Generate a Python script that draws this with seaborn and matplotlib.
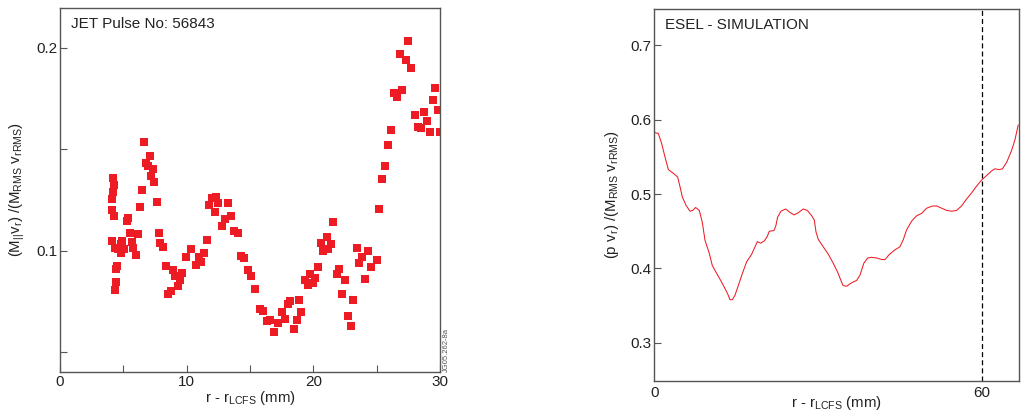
import numpy as np
import pandas as pd
import matplotlib
matplotlib.use("Agg")
import matplotlib.pyplot as plt
from matplotlib.ticker import FixedLocator
import seaborn as sns

# ---------------- data: left panel (JET experiment) ----------------
jet_r = [4.18, 4.26, 4.16, 4.08, 4.08, 4.26, 4.10, 4.34, 4.87, 4.79, 5.05, 4.84, 4.55,
         4.50, 4.42, 4.42, 4.34, 5.34, 5.26, 5.55, 6.16, 5.66, 5.76, 6.00,
         6.60, 7.08, 6.76, 6.97, 7.34, 7.18, 7.42, 6.47, 6.32, 7.66, 7.82, 7.89, 8.13,
         8.37, 8.92, 9.08, 9.63, 9.45, 9.29, 8.76, 8.55, 9.92, 10.34, 10.97, 11.10,
         10.74, 11.37, 11.60, 11.76, 12.03, 12.34, 12.50, 12.24, 13.26, 13.47, 13.03,
         12.79, 13.74, 14.05, 14.29, 14.53, 14.84, 15.08, 15.39,
         15.79, 16.03, 16.32, 16.55, 16.87, 17.21, 17.50, 17.76, 17.97, 18.13, 18.47,
         18.68, 18.87, 19.00, 19.37, 19.58, 19.71, 19.97, 20.16, 20.37, 20.60, 20.76,
         21.08, 21.13, 21.37, 21.55, 21.87, 22.00, 22.26, 22.50, 22.74, 22.97, 23.13,
         23.45, 23.58, 23.84, 24.08, 24.32, 24.55, 25.03, 25.18, 25.42, 25.66, 25.89,
         26.10, 26.37, 26.60, 26.82, 27.00, 27.29, 27.47, 27.71, 28.00, 28.26, 28.50,
         28.71, 28.97, 29.21, 29.42, 29.60, 29.84, 30.00]
jet_val = [0.1358, 0.1325, 0.1291, 0.1255, 0.1200, 0.1171, 0.1049, 0.1011, 0.1049, 0.1031,
           0.1007, 0.0990, 0.1008, 0.0926, 0.0910, 0.0847, 0.0808, 0.1163, 0.1146, 0.1085,
           0.1084, 0.1044, 0.1011, 0.0979,
           0.1535, 0.1466, 0.1432, 0.1417, 0.1402, 0.1368, 0.1338, 0.1299, 0.1215, 0.1240,
           0.1087, 0.1038, 0.1018, 0.0924, 0.0905, 0.0875, 0.0890, 0.0855, 0.0828, 0.0801,
           0.0787, 0.0967, 0.1008, 0.0970, 0.0946, 0.0931, 0.0990, 0.1053, 0.1227, 0.1258,
           0.1263, 0.1236, 0.1192, 0.1236, 0.1171, 0.1156, 0.1122, 0.1097, 0.1087, 0.0975,
           0.0966, 0.0906, 0.0877, 0.0813,
           0.0713, 0.0703, 0.0652, 0.0658, 0.0599, 0.0642, 0.0698, 0.0665, 0.0737, 0.0752,
           0.0614, 0.0660, 0.0757, 0.0700, 0.0856, 0.0831, 0.0887, 0.0842, 0.0865, 0.0920,
           0.1038, 0.0998, 0.1069, 0.1008, 0.1034, 0.1141, 0.0885, 0.0910, 0.0787, 0.0855,
           0.0678, 0.0631, 0.0757, 0.1013, 0.0941, 0.0969, 0.0862, 0.1000, 0.0921, 0.0954,
           0.1207, 0.1355, 0.1419, 0.1521, 0.1596, 0.1777, 0.1757, 0.1970, 0.1793, 0.1939,
           0.2034, 0.1901, 0.1668, 0.1611, 0.1606, 0.1685, 0.1640, 0.1586, 0.1742, 0.1803,
           0.1693, 0.1585]

# ---------------- data: right panel (ESEL simulation) ----------------
sim_r = [0.0, 0.74, 1.35, 1.96, 2.57, 3.49, 4.28, 4.71, 5.14, 5.81, 6.54, 7.03, 7.58, 8.25,
         8.80, 9.29, 10.09, 10.63, 11.30, 12.16, 12.95, 13.44, 13.87, 14.30, 14.79, 15.40,
         16.13, 16.93, 17.84, 18.45, 18.88, 19.49, 20.16, 20.71, 21.07, 21.93, 22.30, 22.60,
         23.22, 24.07, 24.75, 25.60, 26.40, 27.30, 28.05, 28.84, 29.33, 29.64, 30.06, 30.98,
         31.90, 32.80, 33.60, 34.20, 34.60, 35.25, 36.00, 37.10, 37.70, 38.40, 39.10, 39.80,
         40.75, 41.70, 42.30, 43.10, 44.10, 45.00, 45.60, 46.25, 47.20, 48.10, 49.00, 49.90,
         51.00, 51.75, 52.70, 53.60, 54.50, 55.40, 56.30, 57.20, 58.20, 59.10, 60.00, 60.90,
         61.80, 62.40, 63.20, 63.80, 64.60, 65.50, 66.10, 66.70]
sim_val = [0.583, 0.5815, 0.568, 0.550, 0.533, 0.528, 0.523, 0.510, 0.496, 0.485, 0.477,
           0.478, 0.482, 0.478, 0.462, 0.438, 0.420, 0.404, 0.395, 0.384, 0.373, 0.366,
           0.358, 0.358, 0.364, 0.377, 0.393, 0.409, 0.419, 0.429, 0.436, 0.434, 0.437,
           0.443, 0.450, 0.451, 0.458, 0.469, 0.477, 0.480, 0.476, 0.472, 0.475, 0.480,
           0.478, 0.471, 0.465, 0.449, 0.439, 0.429, 0.419, 0.407, 0.395, 0.384, 0.377,
           0.376, 0.380, 0.384, 0.391, 0.407, 0.414, 0.415, 0.414, 0.412, 0.412, 0.419,
           0.425, 0.429, 0.438, 0.452, 0.464, 0.471, 0.474, 0.481, 0.484, 0.484, 0.481,
           0.478, 0.477, 0.478, 0.484, 0.493, 0.502, 0.511, 0.519, 0.525, 0.531, 0.534,
           0.533, 0.534, 0.543, 0.559, 0.573, 0.593]
sim_marker_r = 60  # dashed reference line

left_xticks = [0, 10, 20, 30]
left_xminor = [5, 15, 25]
left_yticks = [0.1, 0.2]
left_yminor = [0.05, 0.15]
right_xticks = [0, 60]
right_yticks = [0.3, 0.4, 0.5, 0.6, 0.7]

# ---------------- styling ----------------
sns.set_theme(style="white")
plt.rcParams['font.family'] = ['Liberation Sans', 'DejaVu Sans']
plt.rcParams['mathtext.fontset'] = 'custom'
plt.rcParams['mathtext.rm'] = 'Liberation Sans'
plt.rcParams['mathtext.it'] = 'Liberation Sans'
plt.rcParams['mathtext.bf'] = 'Liberation Sans:bold'

RED = '#ED1C24'
SPINE = '#555555'
TXT = '#222222'
FS_TICK = 11
FS_LAB = 10.8

fig = plt.figure(figsize=(10.21, 4.18), dpi=100)
ax1 = fig.add_axes([60/1021, 1-372/418, 380/1021, 364/418])
ax2 = fig.add_axes([654.3/1021, 1-380.7/418, 365/1021, 371.7/418])

df1 = pd.DataFrame({'r': jet_r, 'v': jet_val})
sns.scatterplot(data=df1, x='r', y='v', ax=ax1, marker='s', s=30, color=RED,
                linewidth=0, legend=False, clip_on=True)
ax1.set_xlim(0, 30)
ax1.set_ylim(0.0402, 0.2196)
ax1.xaxis.set_major_locator(FixedLocator(left_xticks))
ax1.xaxis.set_minor_locator(FixedLocator(left_xminor))
ax1.yaxis.set_major_locator(FixedLocator(left_yticks))
ax1.yaxis.set_minor_locator(FixedLocator(left_yminor))
ax1.set_xticklabels([str(t) for t in left_xticks])
ax1.set_yticklabels(['0.1', '0.2'])
ax1.tick_params(axis='both', which='both', direction='in', length=5, width=0.8,
                colors=SPINE, labelcolor=TXT, labelsize=FS_TICK, pad=2,
                bottom=True, left=True)
ax1.set_xlabel(r'r - r$_{\mathrm{LCFS}}$ (mm)', fontsize=FS_LAB, color=TXT, va='center')
ax1.xaxis.set_label_coords(0.5, -(398 - 372) / 364)
ax1.set_ylabel(r'(M$_{||}$v$_{\mathrm{r}}$) /(M$_{\mathrm{RMS}}$ v$_{\mathrm{rRMS}}$)',
               fontsize=FS_LAB, color=TXT, va='center')
ax1.yaxis.set_label_coords(-(60 - 17) / 380, 0.5)
ax1.text(0.03, 0.975, 'JET Pulse No: 56843', transform=ax1.transAxes, fontsize=11,
         color=TXT, va='top', ha='left')
fig.text(446/1021, 1-350/418, 'JG05.262-8a', rotation=90, fontsize=5.5, color='#555555',
         ha='center', va='center')

df2 = pd.DataFrame({'r': sim_r, 'v': sim_val})
sns.lineplot(data=df2, x='r', y='v', ax=ax2, color=RED, linewidth=0.75)
ax2.axvline(sim_marker_r, color='black', linestyle=(0, (4, 2.5)), linewidth=0.9)
ax2.set_xlim(0, 66.9)
ax2.set_ylim(0.249, 0.749)
ax2.xaxis.set_major_locator(FixedLocator(right_xticks))
ax2.yaxis.set_major_locator(FixedLocator(right_yticks))
ax2.set_xticklabels([str(t) for t in right_xticks])
ax2.set_yticklabels([f'{t:.1f}' for t in right_yticks])
ax2.tick_params(axis='y', which='both', direction='in', length=5, width=0.8,
                colors=SPINE, labelcolor=TXT, labelsize=FS_TICK, pad=2, left=True)
ax2.tick_params(axis='x', which='both', direction='in', length=0,
                labelcolor=TXT, labelsize=FS_TICK, pad=4, bottom=True)
ax2.set_xlabel(r'r - r$_{\mathrm{LCFS}}$ (mm)', fontsize=FS_LAB, color=TXT, va='center')
ax2.xaxis.set_label_coords(0.5, -(403 - 380.7) / 371.7)
ax2.set_ylabel(r'(p v$_{\mathrm{r}}$) /(M$_{\mathrm{RMS}}$ v$_{\mathrm{rRMS}}$)',
               fontsize=FS_LAB, color=TXT, va='center')
ax2.yaxis.set_label_coords(-(654.3 - 612) / 365, 0.5)
ax2.text(0.03, 0.975, 'ESEL - SIMULATION', transform=ax2.transAxes, fontsize=11,
         color=TXT, va='top', ha='left')

for ax in (ax1, ax2):
    for sp in ax.spines.values():
        sp.set_visible(True)
        sp.set_color(SPINE)
        sp.set_linewidth(1.0)
    ax.set_facecolor('white')

fig.savefig('out.png', dpi=100, facecolor='white')
